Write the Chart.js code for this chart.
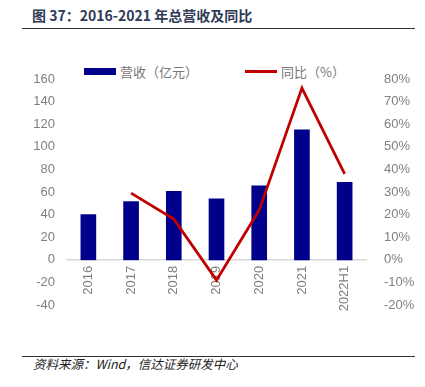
<!DOCTYPE html>
<html lang="zh">
<head>
<meta charset="UTF-8">
<title>总营收及同比</title>
<script src="https://cdn.jsdelivr.net/npm/chart.js"></script>
<style>
  body { margin: 0; width: 425px; height: 387px; background: #fff; position: relative; overflow: hidden;
         font-family: "Noto Sans CJK SC", "Liberation Sans", sans-serif; }
  .title { position: absolute; left: 32px; top: 5px; font-size: 14px; font-weight: bold; color: #2f3b57; }
  .rule { position: absolute; left: 22px; width: 393px; height: 1px; background: #333; }
  .source { position: absolute; left: 33px; top: 354px; font-size: 12.5px; font-style: italic; color: #222; }
  .legend { position: absolute; top: 62px; font-size: 13px; color: #777; display: flex; align-items: center; }
  .legend i { display: inline-block; width: 32px; margin-right: 4px; }
  #wrap { position: absolute; left: 0; top: 40px; width: 425px; height: 305px; }
</style>
</head>
<body>
<div class="title">图 37：2016-2021 年总营收及同比</div>
<div class="rule" style="top:28px"></div>

<div class="legend" style="left:84px"><i style="height:7px;background:#00008b"></i>营收（亿元）</div>
<div class="legend" style="left:245px"><i style="height:3px;background:#c00000"></i>同比（%）</div>

<div id="wrap"><canvas id="chart"></canvas></div>

<div class="rule" style="top:356px"></div>
<div class="source">资料来源：Wind，信达证券研发中心</div>

<script>
// 数据
const categories = ["2016", "2017", "2018", "2019", "2020", "2021", "2022H1"];
const revenue = [40, 51.5, 60.5, 54, 65.5, 115, 68.5];        // 营收（亿元）
const yoy = [null, 29.5, 18, -9, 22, 76, 38];                   // 同比（%）
const leftTicks = [-40, 160, 20];   // min, max, step
const rightTicks = [-20, 80, 10];

const tickFont = { family: "Liberation Sans", size: 13 };
const tickColor = "#808080";

new Chart(document.getElementById("chart"), {
  data: {
    labels: categories,
    datasets: [
      {
        type: "line",
        label: "同比（%）",
        data: yoy,
        yAxisID: "y1",
        borderColor: "#c00000",
        borderWidth: 2.75,
        pointRadius: 0,
        tension: 0,
        spanGaps: false
      },
      {
        type: "bar",
        label: "营收（亿元）",
        data: revenue,
        yAxisID: "y",
        backgroundColor: "#00008b",
        barThickness: 15
      }
    ]
  },
  options: {
    responsive: true,
    maintainAspectRatio: false,
    animation: false,
    layout: { padding: { top: 39, bottom: 40 } },
    plugins: { legend: { display: false }, tooltip: { enabled: false } },
    scales: {
      x: {
        position: { y: 0 },
        grid: { display: false, drawTicks: false },
        border: { color: "#d9d9d9", width: 1.5 },
        ticks: { font: tickFont, color: tickColor, minRotation: 90, maxRotation: 90, padding: 6 }
      },
      y: {
        position: "left",
        min: leftTicks[0], max: leftTicks[1],
        grid: { display: false },
        border: { display: false },
        ticks: { stepSize: leftTicks[2], font: tickFont, color: tickColor, padding: 4 },
        afterFit: s => { s.width = 67; }
      },
      y1: {
        position: "right",
        min: rightTicks[0], max: rightTicks[1],
        grid: { display: false },
        border: { display: false },
        ticks: { stepSize: rightTicks[2], font: tickFont, color: tickColor, padding: 10,
                 callback: v => v + "%" },
        afterFit: s => { s.width = 59; }
      }
    }
  }
});
</script>
</body>
</html>
